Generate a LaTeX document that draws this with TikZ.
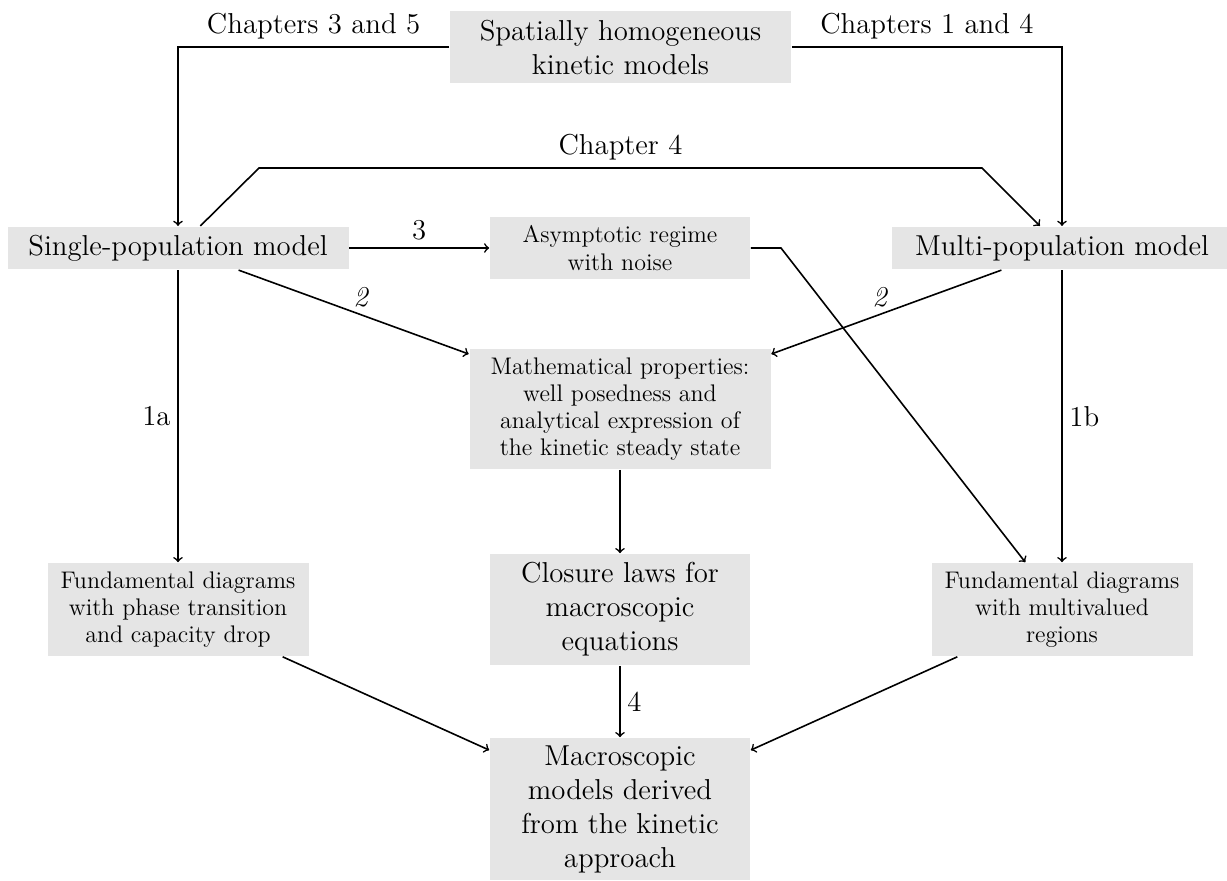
\documentclass[tikz,border=0pt]{standalone}

\begin{document}
\begin{tikzpicture}[x=0.5pt, y=-0.5pt, thick,
  font=\fontsize{14.4}{17}\selectfont,
  kbox/.style={fill=black!10, align=center, inner sep=0pt},
  small/.style={font=\fontsize{12}{13.6}\selectfont}]
  \useasboundingbox (0,0) rectangle (1227,880);
  \node[kbox, minimum width=170.5pt, minimum height=36pt] (top) at (620.5,47) {Spatially homogeneous\\kinetic models};
  \node[kbox, minimum width=170.5pt, minimum height=21.3pt] (single) at (178,248) {Single-population model};
  \node[kbox, minimum width=170.5pt, minimum height=21.3pt] (multi) at (1062,248) {Multi-population model};
  \node[kbox, small, minimum width=130pt, minimum height=31pt] (asym) at (620,248) {Asymptotic regime\\with noise};
  \node[kbox, small, minimum width=150.5pt, minimum height=60pt] (math) at (620,409) {Mathematical properties:\\well posedness and\\analytical expression of\\the kinetic steady state};
  \node[kbox, minimum width=130pt, minimum height=55.5pt] (closure) at (620,609.5) {Closure laws for\\macroscopic\\equations};
  \node[kbox, small, minimum width=130.5pt, minimum height=46.5pt] (fundL) at (178,609.5) {Fundamental diagrams\\with phase transition\\and capacity drop};
  \node[kbox, small, minimum width=130.5pt, minimum height=46.5pt] (fundR) at (1062,609.5) {Fundamental diagrams\\with multivalued\\regions};
  \node[kbox, minimum width=130pt, minimum height=71pt] (macro) at (620,809) {Macroscopic\\models derived\\from the kinetic\\approach};
  \coordinate (c4left) at (259,168);
  \coordinate (c4right) at (982,168);
  \coordinate (bend) at (781,248);
  \draw[->] (top.west) -| node[pos=0.25, above] {Chapters 3 and 5} (single.north);
  \draw[->] (top.east) -| node[pos=0.25, above] {Chapters 1 and 4} (multi.north);
  \draw[->] (single) -- (c4left) -- node[above] {Chapter 4} (c4right) -- (multi);
  \draw[->] (single) -- node[above] {3} (asym);
  \draw[->] (single) -- node[pos=0.53, above] {\itshape 2} (math);
  \draw[->] (multi) -- node[pos=0.53, above] {\itshape 2} (math);
  \draw[->] (single) -- node[left] {1a} (fundL);
  \draw[->] (multi) -- node[right] {1b} (fundR);
  \draw[->] (asym) -- (bend) -- (fundR);
  \draw[->] (math) -- (closure);
  \draw[->] (closure) -- node[right] {4} (macro);
  \draw[->] (fundL) -- (macro);
  \draw[->] (fundR) -- (macro);
\end{tikzpicture}
\end{document}
